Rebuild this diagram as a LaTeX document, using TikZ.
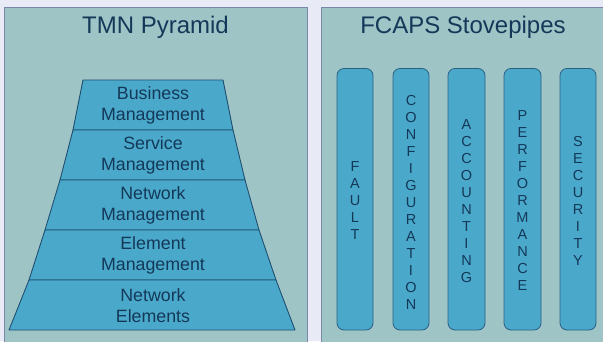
\documentclass[tikz,border=0pt]{standalone}
\usepackage{fontspec}
\setmainfont{Liberation Sans}
\definecolor{bgc}{HTML}{E8EAF6}
\definecolor{panelc}{HTML}{9FC4C6}
\definecolor{panelb}{HTML}{7A88A8}
\definecolor{layerc}{HTML}{4AA9CB}
\definecolor{layerb}{HTML}{1F4F70}
\definecolor{txtc}{HTML}{143858}
\begin{document}
\begin{tikzpicture}[x=1pt,y=-1pt,
  panel/.style={fill=panelc,draw=panelb,line width=0.8pt},
  layer/.style={fill=layerc,draw=layerb,line width=0.9pt,line join=round},
  ltext/.style={text=txtc,font=\fontsize{17.8}{20.5}\selectfont,align=center,inner sep=0pt},
  title/.style={text=txtc,font=\fontsize{24}{28}\selectfont,inner sep=0pt},
  pipe/.style={fill=layerc,draw=layerb!80!layerc,line width=0.8pt,rounded corners=7pt},
  ptext/.style={text=txtc,font=\fontsize{14.5}{17}\selectfont,align=center,inner sep=0pt}]
\fill[bgc] (0,0) rectangle (603,341);
\useasboundingbox (0,0) rectangle (603,341);
% panels
\draw[panel] (4.5,7.5) rectangle (307,345);
\draw[panel] (321,7.5) rectangle (608,345);
\node[title] (t1) at (155.5,27) {TMN Pyramid};
\node[title] (t2) at (463,27) {FCAPS Stovepipes};
% pyramid layers
\draw[layer] (83,80) -- (223,80) -- (233,130) -- (73,130) -- cycle;
\draw[layer] (73,130) -- (233,130) -- (245,180) -- (60,180) -- cycle;
\draw[layer] (60,180) -- (245,180) -- (259,230) -- (45,230) -- cycle;
\draw[layer] (45,230) -- (259,230) -- (276,280) -- (29,280) -- cycle;
\draw[layer] (29,280) -- (276,280) -- (295,330) -- (9,330) -- cycle;
\node[ltext] (l1) at (153,105.5) {Business\\Management};
\node[ltext] (l2) at (153,155.5) {Service\\Management};
\node[ltext] (l3) at (153,205.5) {Network\\Management};
\node[ltext] (l4) at (153,255.5) {Element\\Management};
\node[ltext] (l5) at (153,305.5) {Network\\Elements};
% stovepipes
\draw[pipe] (337,68.5) rectangle (373,330);
\draw[pipe] (393,68.5) rectangle (429,330);
\draw[pipe] (448,68.5) rectangle (485,330);
\draw[pipe] (504,68.5) rectangle (541,330);
\draw[pipe] (560,68.5) rectangle (596,330);
\node[ptext] (p1) at (355,201) {F\\A\\U\\L\\T};
\node[ptext] (p2) at (411,202) {C\\O\\N\\F\\I\\G\\U\\R\\A\\T\\I\\O\\N};
\node[ptext] (p3) at (466.5,201) {A\\C\\C\\O\\U\\N\\T\\I\\N\\G};
\node[ptext] (p4) at (522.5,201) {P\\E\\R\\F\\O\\R\\M\\A\\N\\C\\E};
\node[ptext] (p5) at (578,201) {S\\E\\C\\U\\R\\I\\T\\Y};
\end{tikzpicture}
\end{document}
